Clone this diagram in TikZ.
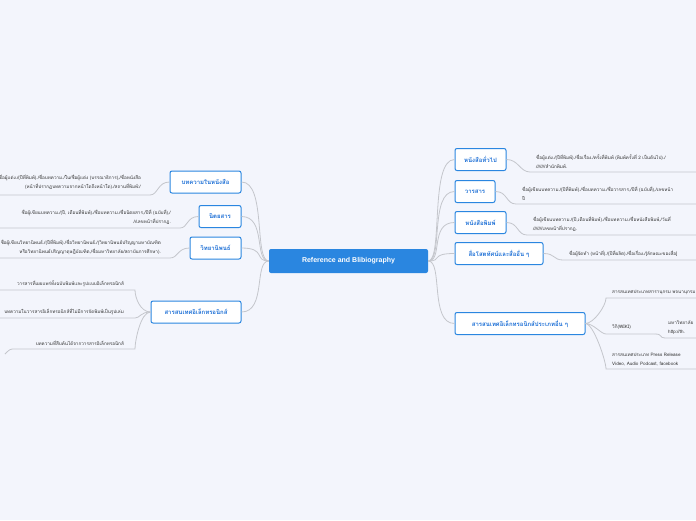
\documentclass[tikz,border=0pt]{standalone}
\usepackage{fontspec}
\setmainfont{Liberation Sans}
\newfontfamily\thai[Script=Thai]{Loma}
\definecolor{bg}{HTML}{F3F5FC}
\definecolor{bl}{HTML}{2A86E0}
\definecolor{bt}{HTML}{1C6FD6}
\definecolor{ln}{HTML}{C4C6CC}
\definecolor{tx}{HTML}{333333}
\tikzset{
 br/.style={draw=bl,line width=1pt,rounded corners=2pt,fill=white,text=bt,font=\thai\bfseries\fontsize{6}{7}\selectfont,inner sep=0pt,minimum height=22pt,align=center},
 lf/.style={text=tx,font=\thai\fontsize{4.6}{9}\selectfont,inner sep=1pt,align=left},
 lfr/.style={lf,align=right},
 cn/.style={draw=ln,line width=0.8pt},
}
\begin{document}
\begin{tikzpicture}[x=1pt,y=-1pt]
\fill[bg] (0,0) rectangle (696,520);
\useasboundingbox (0,0) rectangle (696,520);
\node[fill=bl,text=white,font=\bfseries\fontsize{7}{8}\selectfont,rounded corners=2pt,minimum width=159pt,minimum height=24pt] (c) at (348.5,261) {Reference and Blibiography};
% left branches
\node[br,minimum width=71pt] (l1) at (205.5,182) {บทความในหนังสือ};
\node[br,minimum width=42pt] (l2) at (220,216.5) {นิตยสาร};
\node[br,minimum width=51pt] (l3) at (215.5,248) {วิทยานิพนธ์};
\node[br,minimum width=90pt] (l4) at (196,312) {สารสนเทศอิเล็กทรอนิกส์};
% right branches
\node[br,minimum width=51pt] (r1) at (480.5,159.5) {หนังสือทั่วไป};
\node[br,minimum width=40pt] (r2) at (475,191.5) {วารสาร};
\node[br,minimum width=51pt] (r3) at (480.5,222.5) {หนังสือพิมพ์};
\node[br,minimum width=88pt] (r4) at (499,253.5) {สื่อโสตทัศน์และสื่ออื่น ๆ};
\node[br,minimum width=130pt] (r5) at (520,323.5) {สารสนเทศอิเล็กทรอนิกส์ประเภทอื่น ๆ};
% center connectors
\foreach \n in {l1,l2,l3,l4}{\draw[cn] (c.west) .. controls +(-15,0) and +(25,0) .. (\n.east);}
\foreach \n in {r1,r2,r3,r4,r5}{\draw[cn] (c.east) .. controls +(15,0) and +(-25,0) .. (\n.west);}
% left leaves
\node[lfr,anchor=south east] (t1) at (142,191) {ชื่อผู้แต่ง./(ปีที่พิมพ์)./ชื่อบทความ./ใน/ชื่อผู้แต่ง (บรรณาธิการ),/ชื่อหนังสือ\\(หน้าที่ปรากฏบทความจากหน้าใดถึงหน้าใด)./สถานที่พิมพ์:/};
\coordinate (u1) at (150,195);
\draw[cn] (l1.west) .. controls +(-12,0) and +(8,0) .. (u1) -- (0,195);
\node[lfr,anchor=south east] (t2) at (172,226) {ชื่อผู้เขียนบทความ./(ปี, เดือนที่พิมพ์)./ชื่อบทความ./ชื่อนิตยสาร,/ปีที่ (ฉบับที่),/\\//เลขหน้าที่ปรากฏ.};
\coordinate (u2) at (180,228);
\draw[cn] (l2.west) .. controls +(-12,0) and +(8,0) .. (u2) -- (0,228);
\node[lfr,anchor=south east] (t3) at (162,256) {ชื่อผู้เขียนวิทยานิพนธ์./(ปีที่พิมพ์)./ชื่อวิทยานิพนธ์./(วิทยานิพนธ์ปริญญามหาบัณฑิต\\หรือวิทยานิพนธ์ปริญญาดุษฎีบัณฑิต,/ชื่อมหาวิทยาลัย/สถาบันการศึกษา).};
\coordinate (u3) at (170,258);
\draw[cn] (l3.west) .. controls +(-12,0) and +(8,0) .. (u3) -- (0,258);
\node[lfr,anchor=south east] (t4) at (125,288) {วารสารที่เผยแพร่ทั้งฉบับพิมพ์และรูปแบบอิเล็กทรอนิกส์};
\node[lfr,anchor=south east] (t5) at (125,316) {บทความในวารสารอิเล็กทรอนิกส์ที่ไม่มีการจัดพิมพ์เป็นรูปเล่ม};
\node[lfr,anchor=south east] (t6) at (125,347) {บทความที่สืบค้นได้จากวารสารอิเล็กทรอนิกส์};
\coordinate (u4) at (135,290); \coordinate (u5) at (135,318); \coordinate (u6) at (135,349);
\draw[cn] (l4.west) .. controls +(-10,0) and +(0,8) .. (u4) -- (0,290);
\draw[cn] (l4.west) .. controls +(-10,0) and +(5,0) .. (u5) -- (0,318);
\draw[cn] (l4.west) .. controls +(-10,0) and +(0,-8) .. (u6) -- (15,349) .. controls +(-5,0) .. (5,354);
% right leaves
\node[lf,anchor=south west] (s1) at (535,170) {ชื่อผู้แต่ง./(ปีที่พิมพ์)./ชื่อเรื่อง./ครั้งที่พิมพ์ (พิมพ์ครั้งที่ 2 เป็นต้นไป)./\\///////สำนักพิมพ์.};
\coordinate (v1) at (530,172);
\draw[cn] (r1.east) .. controls +(12,0) and +(-10,0) .. (v1) -- (696,172);
\node[lf,anchor=south west] (s2) at (521,202) {ชื่อผู้เขียนบทความ./(ปีที่พิมพ์)./ชื่อบทความ./ชื่อวารสาร,/ปีที่ (ฉบับที่),/เลขหน้า\\ปี};
\coordinate (v2) at (516,204);
\draw[cn] (r2.east) .. controls +(12,0) and +(-10,0) .. (v2) -- (696,204);
\node[lf,anchor=south west] (s3) at (532,233) {ชื่อผู้เขียนบทความ./(ปี,เดือนที่พิมพ์)./ชื่อบทความ./ชื่อหนังสือพิมพ์,/วันที่\\///////เลขหน้าที่ปรากฏ.};
\coordinate (v3) at (527,235);
\draw[cn] (r3.east) .. controls +(12,0) and +(-10,0) .. (v3) -- (696,235);
\node[lf,anchor=south west] (s4) at (568,258) {ชื่อผู้จัดทำ (หน้าที่)./(ปีที่ผลิต)./ชื่อเรื่อง./[ลักษณะของสื่อ]};
\coordinate (v4) at (563,260);
\draw[cn] (r4.east) .. controls +(12,0) and +(-10,0) .. (v4) -- (696,260);
\node[lf,anchor=south west] (s5) at (611,296) {สารสนเทศประเภทสารานุกรม พจนานุกรม};
\node[lf,anchor=south west] (s6) at (611,331) {วิกิ(WIKI)};
\node[lf,anchor=south west] (s7) at (611,367) {สารสนเทศประเภท Press Release\\Video, Audio Podcast, facebook};
\node[lf,anchor=south west] (s8) at (667,336) {มหาวิทยาลัย\\http://th.};
\coordinate (v5) at (606,298); \coordinate (v6) at (606,334); \coordinate (v7) at (606,369);
\draw[cn] (r5.east) .. controls +(8,0) and +(0,8) .. (v5) -- (696,298);
\draw[cn] (r5.east) .. controls +(8,0) and +(-5,0) .. (v6) -- (655,334);
\draw[cn] (r5.east) .. controls +(8,0) and +(0,-8) .. (v7) -- (696,369);
\draw[cn] (655,334) .. controls +(8,0) and +(-6,0) .. (665,338) -- (696,338);
\end{tikzpicture}
\end{document}
